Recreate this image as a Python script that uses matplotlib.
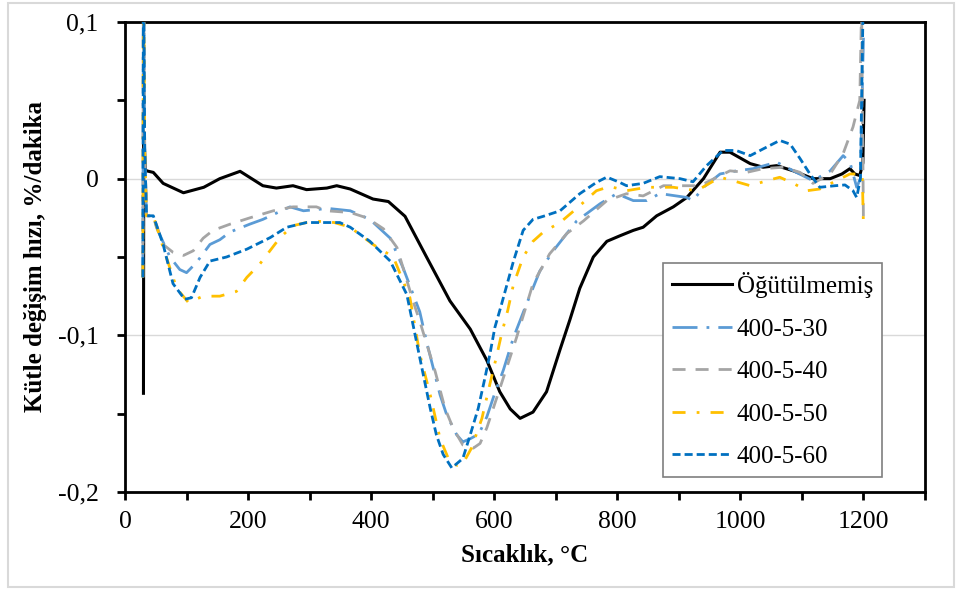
import matplotlib
matplotlib.use("Agg")
import matplotlib.pyplot as plt
from matplotlib.ticker import FixedLocator, FuncFormatter
from matplotlib.patches import Rectangle

plt.rcParams['font.family'] = ['Liberation Serif', 'DejaVu Serif']
plt.rcParams['lines.scale_dashes'] = False

labels = ["Öğütülmemiş", "400-5-30", "400-5-40", "400-5-50", "400-5-60"]

x_ogut = [30, 30.5, 33, 35, 46, 62, 95, 128, 154, 187, 224, 246, 273, 295, 328, 344, 366, 403,
          428, 455, 490, 528, 561, 588, 609, 626, 642, 663, 685, 707, 723, 739, 761, 783, 804,
          826, 842, 864, 891, 913, 940, 967, 983, 1016, 1037, 1059, 1086, 1118, 1146, 1165, 1178,
          1186, 1194, 1199, 1201]
y_ogut = [-0.137, 0.03, 0.006, 0.005, 0.004, -0.003, -0.009, -0.0055, 0.0, 0.0047, -0.0045,
          -0.006, -0.0045, -0.007, -0.006, -0.0045, -0.0066, -0.013, -0.0146, -0.024, -0.050,
          -0.078, -0.096, -0.116, -0.136, -0.147, -0.153, -0.149, -0.136, -0.109, -0.090, -0.070,
          -0.050, -0.040, -0.0365, -0.033, -0.031, -0.0237, -0.018, -0.012, 0.0, 0.0169, 0.0169,
          0.0096, 0.0073, 0.0083, 0.005, 0.0, 0.0, 0.003, 0.0064, 0.003, 0.002, 0.01, 0.05]

x_30 = [29, 30, 32, 35, 46, 51, 73, 89, 100, 116, 138, 154, 171, 203, 224, 268, 290, 330, 366,
        398, 431, 452, 479, 490, 501, 512, 523, 539, 549, 561, 575, 588, 600, 615, 631, 650, 674,
        696, 734, 772, 799, 826, 848, 869, 913, 923, 940, 967, 994, 1021, 1059, 1091, 1118, 1146,
        1167, 1178, 1189, 1195, 1200]
y_30 = [-0.063, 0.15, 0.02, -0.0237, -0.0237, -0.031, -0.050, -0.058, -0.060, -0.0536, -0.042,
        -0.039, -0.034, -0.029, -0.026, -0.018, -0.0205, -0.019, -0.0205, -0.026, -0.038, -0.057,
        -0.085, -0.104, -0.121, -0.138, -0.151, -0.1635, -0.168, -0.166, -0.163, -0.152, -0.138,
        -0.122, -0.1017, -0.0825, -0.059, -0.046, -0.027, -0.016, -0.0096, -0.014, -0.014,
        -0.0095, -0.012, -0.014, -0.0055, 0.003, 0.005, 0.0064, 0.0105, 0.004, -0.0013, 0.005,
        0.0147, 0.0105, -0.0055, 0.0, 0.09]

x_40 = [29, 30, 32, 35, 46, 62, 78, 95, 111, 127, 143, 171, 203, 241, 273, 311, 328, 366, 393,
        420, 442, 468, 479, 504, 520, 533, 549, 566, 577, 588, 604, 620, 636, 653, 663, 690, 718,
        745, 783, 815, 842, 875, 902, 923, 934, 983, 1010, 1037, 1070, 1097, 1118, 1146, 1167,
        1183, 1194, 1197, 1200]
y_40 = [-0.063, 0.15, 0.02, -0.0237, -0.0237, -0.042, -0.047, -0.049, -0.046, -0.038, -0.033,
        -0.029, -0.025, -0.0205, -0.018, -0.018, -0.0205, -0.0216, -0.025, -0.032, -0.044, -0.078,
        -0.091, -0.123, -0.1466, -0.159, -0.170, -0.172, -0.169, -0.159, -0.140, -0.121, -0.1017,
        -0.080, -0.067, -0.048, -0.035, -0.027, -0.014, -0.0096, -0.011, -0.0045, -0.0045,
        -0.0045, -0.0045, 0.005, 0.004, 0.0064, 0.0073, 0.004, -0.003, 0.003, 0.016, 0.033, 0.05,
        0.11, -0.03]

x_50 = [29, 30, 32, 35, 46, 62, 84, 103, 127, 154, 181, 198, 219, 252, 273, 306, 340, 366, 403,
        436, 463, 479, 496, 512, 528, 540, 549, 563, 580, 593, 604, 612, 622, 631, 647, 663, 680,
        707, 734, 766, 788, 815, 848, 891, 929, 967, 988, 1016, 1043, 1064, 1086, 1108, 1129,
        1156, 1178, 1198, 1200]
y_50 = [-0.063, 0.15, 0.02, -0.0237, -0.0237, -0.044, -0.070, -0.079, -0.075, -0.075, -0.072,
        -0.063, -0.0545, -0.0376, -0.030, -0.027, -0.028, -0.031, -0.042, -0.050, -0.076, -0.112,
        -0.138, -0.166, -0.181, -0.183, -0.182, -0.172, -0.153, -0.131, -0.113, -0.099, -0.084,
        -0.068, -0.050, -0.040, -0.034, -0.028, -0.019, -0.0077, -0.005, -0.0077, -0.0055,
        -0.0055, -0.0077, 0.0009, -0.0013, -0.0045, -0.0013, 0.0009, -0.003, -0.0077, -0.0066,
        -0.0013, 0.003, 0.003, -0.03]

x_60 = [29, 30, 32, 35, 46, 62, 78, 97, 108, 122, 138, 165, 198, 236, 263, 295, 328, 349, 366,
        398, 431, 458, 482, 496, 506, 517, 531, 549, 561, 574, 585, 593, 601, 612, 631, 647, 663,
        680, 707, 739, 766, 783, 804, 815, 842, 869, 902, 923, 945, 972, 993, 1016, 1037, 1064,
        1081, 1097, 1113, 1129, 1154, 1170, 1183, 1189, 1195, 1201]
y_60 = [-0.063, 0.15, 0.02, -0.0237, -0.0237, -0.042, -0.067, -0.077, -0.076, -0.063, -0.0526,
        -0.050, -0.045, -0.0376, -0.031, -0.028, -0.028, -0.028, -0.031, -0.040, -0.0526, -0.074,
        -0.12, -0.1466, -0.1635, -0.176, -0.1846, -0.1786, -0.1635, -0.1466, -0.127, -0.112,
        -0.095, -0.080, -0.053, -0.033, -0.026, -0.024, -0.0205, -0.0096, -0.0024, 0.001, -0.0024,
        -0.0045, -0.003, 0.0013, 0.0, -0.002, 0.0083, 0.018, 0.018, 0.0147, 0.019, 0.0244, 0.022,
        0.0128, 0.003, -0.0055, -0.0045, -0.004, -0.0077, -0.012, 0.0, 0.15]

x_major = [0, 200, 400, 600, 800, 1000, 1200]
x_minor = [100, 300, 500, 700, 900, 1100, 1300]
y_major = [-0.2, -0.1, 0.0, 0.1]
y_minor = [-0.15, -0.05, 0.05]

fig = plt.figure(figsize=(9.58, 5.90), dpi=100)
ax = fig.add_axes([125/958, (590-492)/590, 800/958, 470/590])

fig.patches.append(Rectangle((8/958, 3/590), 946/958, 584/590, transform=fig.transFigure,
                             fill=False, edgecolor='#D9D9D9', linewidth=1.5))

lw = 2.0
ax.plot(x_ogut, y_ogut, color='black', lw=2.2, label=labels[0], zorder=3)
ax.plot(x_30, y_30, color='#5B9BD5', lw=lw, dashes=(18, 6.5, 2, 6.5), label=labels[1], zorder=4)
ax.plot(x_40, y_40, color='#A5A5A5', lw=lw, dashes=(9.4, 7.2), label=labels[2], zorder=4)
ax.plot(x_50, y_50, color='#FFC000', lw=lw, dashes=(9.4, 8, 2, 8), label=labels[3], zorder=4)
ax.plot(x_60, y_60, color='#0070C0', lw=lw, dashes=(5.8, 2.9), label=labels[4], zorder=5)

ax.set_xlim(0, 1300)
ax.set_ylim(-0.2, 0.1)

ax.xaxis.set_major_locator(FixedLocator(x_major))
ax.xaxis.set_minor_locator(FixedLocator(x_minor))
ax.yaxis.set_major_locator(FixedLocator(y_major))
ax.yaxis.set_minor_locator(FixedLocator(y_minor))

def yfmt(v, pos):
    if abs(v) < 1e-9:
        return "0"
    return f"{v:.1f}".replace('.', ',')

ax.yaxis.set_major_formatter(FuncFormatter(yfmt))
ax.xaxis.set_major_formatter(FuncFormatter(lambda v, p: f"{int(round(v))}"))

ax.tick_params(axis='both', which='both', direction='out', length=6, width=2, labelsize=18.5)
ax.tick_params(axis='x', pad=8)
ax.tick_params(axis='y', pad=13)

for s in ax.spines.values():
    s.set_linewidth(2)
    s.set_color('black')

ax.grid(axis='y', which='major', color='#D9D9D9', lw=1)
ax.set_axisbelow(True)

ax.set_xlabel("Sıcaklık, °C", fontsize=18, fontweight='bold', labelpad=7)
ax.set_ylabel("Kütle değişim hızı, %/dakika", fontsize=18, fontweight='bold', labelpad=8)

leg = ax.legend(loc='lower left', bbox_to_anchor=(0.6725, 0.032), fontsize=18,
                frameon=True, fancybox=False, edgecolor='#7F7F7F', framealpha=1,
                handlelength=2.4, handletextpad=0.2, labelspacing=0.8, borderpad=0.35,
                borderaxespad=0)
leg.get_frame().set_linewidth(1.2)

fig.savefig("out.png", dpi=100)
